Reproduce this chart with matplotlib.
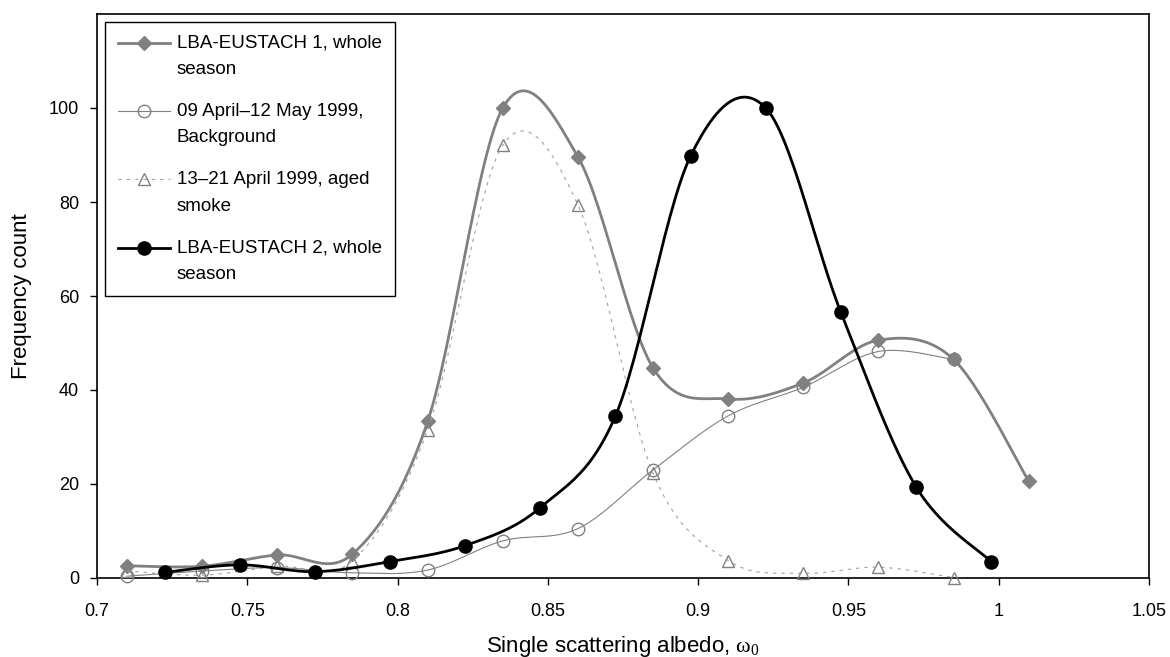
import numpy as np
import matplotlib
matplotlib.use("Agg")
import matplotlib.pyplot as plt
from matplotlib.lines import Line2D
from matplotlib.ticker import FormatStrFormatter

plt.rcParams['font.family'] = ['Liberation Sans', 'DejaVu Sans']
plt.rcParams['mathtext.fontset'] = 'custom'
plt.rcParams['mathtext.rm'] = 'Liberation Serif'

# albedo bins
x_eu1 = [0.71, 0.735, 0.76, 0.785, 0.81, 0.835, 0.86, 0.885, 0.91, 0.935, 0.96, 0.985, 1.01]
x_sub = [0.71, 0.735, 0.76, 0.785, 0.81, 0.835, 0.86, 0.885, 0.91, 0.935, 0.96, 0.985]
x_eu2 = [0.7225, 0.7475, 0.7725, 0.7975, 0.8225, 0.8475, 0.8725, 0.8975, 0.9225, 0.9475, 0.9725, 0.9975]

# frequency counts
eu1_whole = [2.6, 2.5, 4.9, 5.1, 33.3, 100, 89.6, 44.7, 38.1, 41.5, 50.6, 46.5, 20.6]
background = [0.4, 1.5, 2.2, 1.1, 1.7, 7.9, 10.5, 23.0, 34.5, 40.6, 48.2, 46.5]
aged_smoke = [1.5, 0.6, 2.5, 3.7, 31.5, 92.1, 79.4, 22.3, 3.7, 1.0, 2.3, 0.1]
eu2_whole = [1.2, 2.8, 1.35, 3.5, 6.9, 15.0, 34.5, 89.8, 100, 56.5, 19.4, 3.5]

labels = ["LBA-EUSTACH 1, whole\nseason",
          "09 April\u201312 May 1999,\nBackground",
          "13\u201321 April 1999, aged\nsmoke",
          "LBA-EUSTACH 2, whole\nseason"]


def smooth(xs, ys, n=30):
    # spreadsheet-style smoothed line: cubic bezier through the points,
    # control points from the neighbouring points (catmull-rom)
    p = np.column_stack([xs, ys]).astype(float)
    ext = np.vstack([p[0], p, p[-1]])
    out = [p[:1]]
    t = np.linspace(0, 1, n)[1:, None]
    for i in range(len(p) - 1):
        p0, p3 = ext[i + 1], ext[i + 2]
        c1 = p0 + (ext[i + 2] - ext[i]) / 6.0
        c2 = p3 - (ext[i + 3] - ext[i + 1]) / 6.0
        seg = ((1 - t) ** 3) * p0 + 3 * ((1 - t) ** 2) * t * c1 + 3 * (1 - t) * t ** 2 * c2 + t ** 3 * p3
        out.append(seg)
    out = np.vstack(out)
    return out[:, 0], out[:, 1]


gray = '#808080'
fig = plt.figure(figsize=(11.7, 6.57), dpi=100)
ax = fig.add_axes([97 / 1170, 79 / 657, 1052 / 1170, 564 / 657])

styles = [
    dict(color=gray, lw=2.0, ls='-', marker='D', ms=7.5, mfc=gray, mec=gray, mew=1),
    dict(color=gray, lw=0.8, ls='-', marker='o', ms=9, mfc='none', mec=gray, mew=1),
    dict(color='#a0a0a0', lw=0.8, ls=(0, (3, 4.5)), marker='^', ms=9, mfc='none', mec=gray, mew=1),
    dict(color='black', lw=2.0, ls='-', marker='o', ms=9.5, mfc='black', mec='black', mew=1),
]
series = [(x_eu1, eu1_whole), (x_sub, background), (x_sub, aged_smoke), (x_eu2, eu2_whole)]

handles = []
for k, ((xs, ys), st) in enumerate(zip(series, styles)):
    sx, sy = smooth(xs, ys)
    ax.plot(sx, sy, color=st['color'], lw=st['lw'], ls=st['ls'], zorder=2 + k)
    ax.plot(xs, ys, ls='none', marker=st['marker'], ms=st['ms'], mfc=st['mfc'],
            mec=st['mec'], mew=st['mew'], zorder=2.5 + k, clip_on=False)
    handles.append(Line2D([], [], **st))

ax.set_xlim(0.7, 1.05)
ax.set_ylim(0, 120)
ax.set_xticks(np.arange(0.7, 1.0501, 0.05))
ax.set_yticks(range(0, 101, 20))
ax.xaxis.set_major_formatter(FormatStrFormatter('%g'))
ax.tick_params(axis='x', direction='out', length=5, width=1, labelsize=13, pad=13)
ax.tick_params(axis='y', direction='out', length=5, width=1, labelsize=13, pad=8)
for s in ax.spines.values():
    s.set_linewidth(1.2)

fig.text(0.5325, 5 / 657, "Single scattering albedo, $\\mathrm{\\omega_0}$",
         fontsize=16, ha='center', va='baseline')
ax.set_ylabel("Frequency count", fontsize=16, labelpad=12)

leg = ax.legend(handles, labels, loc='upper left', bbox_to_anchor=(0.0, 1.0),
                fontsize=13.5, fancybox=False, edgecolor='black', framealpha=1,
                handlelength=2.8, handletextpad=0.35, labelspacing=1.35,
                borderpad=0.7, borderaxespad=0.4)
leg.get_frame().set_linewidth(1.0)
for t in leg.get_texts():
    t.set_linespacing(1.7)
# put each handle on the first line of its label
for h in leg.legend_handles:
    h.set_ydata(np.asarray(h.get_ydata()) + 9.8)

fig.savefig("out.png", dpi=100)
